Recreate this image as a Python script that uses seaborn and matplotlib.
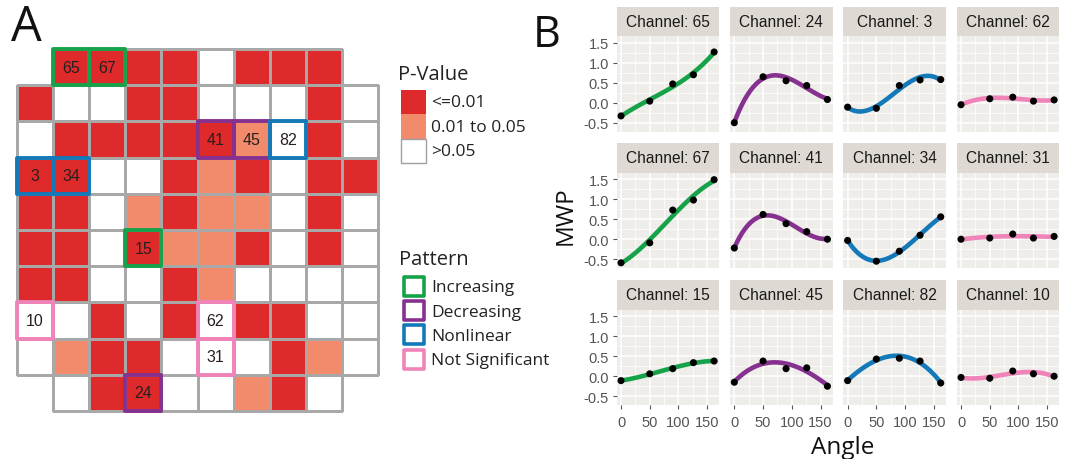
import numpy as np
import pandas as pd
import matplotlib
matplotlib.use("Agg")
import matplotlib.pyplot as plt
import seaborn as sns
from matplotlib.colors import ListedColormap, to_rgba
from matplotlib.patches import Rectangle

# ---------------- Panel A data ----------------
# p-value class per electrode: 0 = >0.05, 1 = 0.01 to 0.05, 2 = <=0.01, nan = no electrode
N = np.nan
pclass = [
    [N, 2, 2, 2, 2, 0, 2, 2, 2, N],
    [2, 0, 0, 2, 2, 0, 0, 0, 2, 0],
    [0, 2, 2, 2, 2, 2, 1, 0, 2, 0],
    [2, 2, 0, 0, 2, 1, 2, 0, 2, 2],
    [2, 2, 0, 1, 2, 1, 1, 0, 2, 0],
    [2, 2, 0, 2, 1, 1, 2, 0, 2, 0],
    [2, 2, 0, 0, 2, 1, 0, 0, 0, 0],
    [0, 0, 2, 0, 2, 0, 2, 2, 0, 0],
    [0, 1, 2, 2, 0, 0, 0, 2, 1, 0],
    [N, 0, 2, 2, 0, 0, 1, 2, 0, N],
]
pval_labels = ["<=0.01", "0.01 to 0.05", ">0.05"]
pattern_labels = ["Increasing", "Decreasing", "Nonlinear", "Not Significant"]

label_channels = [65, 67, 41, 45, 82, 3, 34, 15, 10, 62, 31, 24]
label_rows = [0, 0, 2, 2, 2, 3, 3, 5, 7, 7, 8, 9]
label_cols = [1, 2, 5, 6, 7, 0, 1, 3, 0, 5, 5, 3]
label_patterns = ["Increasing", "Increasing", "Decreasing", "Decreasing", "Nonlinear",
                  "Nonlinear", "Nonlinear", "Increasing", "Not Significant",
                  "Not Significant", "Not Significant", "Decreasing"]

# ---------------- Panel B data ----------------
angles = [0, 50, 90, 126, 162]
facet_channels = [65, 24, 3, 62, 67, 41, 34, 31, 15, 45, 82, 10]
mwp_65 = [-0.33, 0.04, 0.47, 0.70, 1.27]
mwp_24 = [-0.50, 0.65, 0.55, 0.43, 0.08]
mwp_3 = [-0.11, -0.14, 0.43, 0.57, 0.58]
mwp_62 = [-0.05, 0.10, 0.14, 0.04, 0.07]
mwp_67 = [-0.59, -0.09, 0.73, 0.98, 1.49]
mwp_41 = [-0.22, 0.62, 0.39, 0.19, 0.00]
mwp_34 = [-0.03, -0.55, -0.30, 0.10, 0.56]
mwp_31 = [0.00, 0.03, 0.13, 0.03, 0.07]
mwp_15 = [-0.11, 0.06, 0.19, 0.34, 0.38]
mwp_45 = [-0.15, 0.38, 0.19, 0.21, -0.25]
mwp_82 = [-0.11, 0.43, 0.45, 0.38, -0.17]
mwp_10 = [-0.03, -0.05, 0.13, 0.06, 0.00]
mwp_by_channel = {65: mwp_65, 24: mwp_24, 3: mwp_3, 62: mwp_62, 67: mwp_67, 41: mwp_41,
                  34: mwp_34, 31: mwp_31, 15: mwp_15, 45: mwp_45, 82: mwp_82, 10: mwp_10}

# ---------------- styles ----------------
RED = "#DE2A2A"
SALMON = "#F28B6C"
GRIDC = "#A8A8A8"
pattern_colors = {"Increasing": "#17A24A", "Decreasing": "#86318F",
                  "Nonlinear": "#1479B8", "Not Significant": "#F083B8"}
PANEL_BG = "#EEEDE9"
STRIP_BG = "#DEDAD3"
TICKC = "#555555"

sns.set_theme(style="white")
plt.rcParams["font.family"] = ["Liberation Sans", "DejaVu Sans"]
plt.rcParams["axes.unicode_minus"] = False
LEG_FONT = ["Open Sans", "DejaVu Sans"]

W, H = 1075, 460
fig = plt.figure(figsize=(W / 100, H / 100), dpi=100)


def fx(px):
    return px / W


def fy(py):
    return 1 - py / H


# ---------------- Panel A ----------------
arr = np.array(pclass, dtype=float)
missing = np.isnan(arr)
ax_a = fig.add_axes([fx(17), fy(412), fx(378) - fx(17), fy(50) - fy(412)])
sns.heatmap(arr, mask=missing, cmap=ListedColormap(["white", SALMON, RED]),
            vmin=-0.5, vmax=2.5, cbar=False, linewidths=1, linecolor=GRIDC,
            xticklabels=False, yticklabels=False, ax=ax_a)
mesh = ax_a.collections[0]
mesh.set_clip_on(False)
edge_cols = [to_rgba(GRIDC, 0.0) if m else to_rgba(GRIDC) for m in missing.ravel()]
mesh.set_edgecolor(edge_cols)
for ch, r, c, pat in zip(label_channels, label_rows, label_cols, label_patterns):
    ax_a.add_patch(Rectangle((c, r), 1, 1, fill=False, edgecolor=pattern_colors[pat],
                             lw=2.8, clip_on=False, zorder=5, joinstyle="round"))
    ax_a.text(c + 0.5, r + 0.5, str(ch), ha="center", va="center", fontsize=11.5,
              color="#2a1f1f", zorder=6)

# ---------------- overlay for legends and panel letters ----------------
ov = fig.add_axes([0, 0, 1, 1])
ov.set_xlim(0, W)
ov.set_ylim(H, 0)
ov.axis("off")
ov.patch.set_alpha(0)

ov.text(26, 28, "A", fontsize=35, family=LEG_FONT, ha="center", va="center", color="#111111")
ov.text(547, 36, "B", fontsize=31, family=LEG_FONT, ha="center", va="center", color="#111111")

ov.text(398, 75, "P-Value", fontsize=14.5, family=LEG_FONT, ha="left", va="center", color="#222222")
pv_fill = [RED, SALMON, "white"]
pv_edge = ["none", "none", "#A0A0A0"]
for i, (lab, fc, ec) in enumerate(zip(pval_labels, pv_fill, pv_edge)):
    y0 = 90.5 + i * 24.6
    ov.add_patch(Rectangle((401, y0), 24.5, 24.6, facecolor=fc, edgecolor=ec, lw=1))
    ov.text(431, y0 + 12.6, lab, fontsize=12.5, family=LEG_FONT, ha="left", va="center",
            color="#222222")

ov.text(399, 260, "Pattern", fontsize=14.5, family=LEG_FONT, ha="left", va="center", color="#222222")
for i, lab in enumerate(pattern_labels):
    y0 = 278 + i * 24.2
    ov.add_patch(Rectangle((403.5, y0), 20, 19, facecolor="white",
                           edgecolor=pattern_colors[lab], lw=2.6, joinstyle="round"))
    ov.text(431, y0 + 10.5, lab, fontsize=12.5, family=LEG_FONT, ha="left", va="center",
            color="#222222")

# ---------------- Panel B ----------------
col_left = [616.7, 730.0, 843.3, 956.7]
pan_w = 102.6
row_top = [37.0, 173.5, 310.5]
pan_h = 95.5
strip_h = 29.5

for k, ch in enumerate(facet_channels):
    r, c = divmod(k, 4)
    ax = fig.add_axes([fx(col_left[c]), fy(row_top[r] + pan_h), fx(pan_w), pan_h / H])
    ax.set_facecolor(PANEL_BG)
    pat = label_patterns[label_channels.index(ch)]
    df = pd.DataFrame({"Angle": angles, "MWP": mwp_by_channel[ch]})
    sns.regplot(data=df, x="Angle", y="MWP", order=3, ci=None, scatter=False, ax=ax,
                line_kws=dict(color=pattern_colors[pat], lw=3.3, solid_capstyle="round", zorder=2))
    sns.scatterplot(data=df, x="Angle", y="MWP", color="black", s=26, edgecolor="none",
                    ax=ax, zorder=3)
    ax.set_xlim(-7.5, 171)
    ax.set_ylim(-0.72, 1.67)
    ax.set_xticks([0, 50, 100, 150])
    ax.set_xticks([25, 75, 125], minor=True)
    ax.set_yticks([-0.5, 0.0, 0.5, 1.0, 1.5])
    ax.set_yticks([-0.25, 0.25, 0.75, 1.25], minor=True)
    ax.set_xticklabels(["0", "50", "100", "150"])
    ax.set_yticklabels(["-0.5", "0.0", "0.5", "1.0", "1.5"])
    ax.grid(which="major", color="white", lw=1.1)
    ax.grid(which="minor", color="white", lw=0.5)
    ax.set_axisbelow(True)
    for sp in ax.spines.values():
        sp.set_visible(False)
    ax.set_xlabel("")
    ax.set_ylabel("")
    ax.tick_params(which="major", length=3, width=0.8, color=TICKC, labelcolor=TICKC,
                   labelsize=10.5, pad=2.5)
    ax.tick_params(which="minor", length=0)
    ax.tick_params(axis="x", bottom=(r == 2), labelbottom=(r == 2), pad=4)
    ax.tick_params(axis="y", left=(c == 0), labelleft=(c == 0))
    sh = strip_h / pan_h
    ax.add_patch(Rectangle((0, 1), 1, sh, transform=ax.transAxes, facecolor=STRIP_BG,
                           edgecolor="none", clip_on=False))
    ax.text(0.5, 1 + sh / 2, f"Channel: {ch}", transform=ax.transAxes, ha="center",
            va="center", fontsize=11.2, color="#1a1a1a")

fig.text(fx(566), fy(216), "MWP", rotation=90, fontsize=17.5, family=LEG_FONT,
         ha="center", va="center", color="#111111")
fig.text(fx(843), fy(454), "Angle", fontsize=17.5, family=LEG_FONT,
         ha="center", va="baseline", color="#111111")

fig.savefig("out.png", dpi=100)
